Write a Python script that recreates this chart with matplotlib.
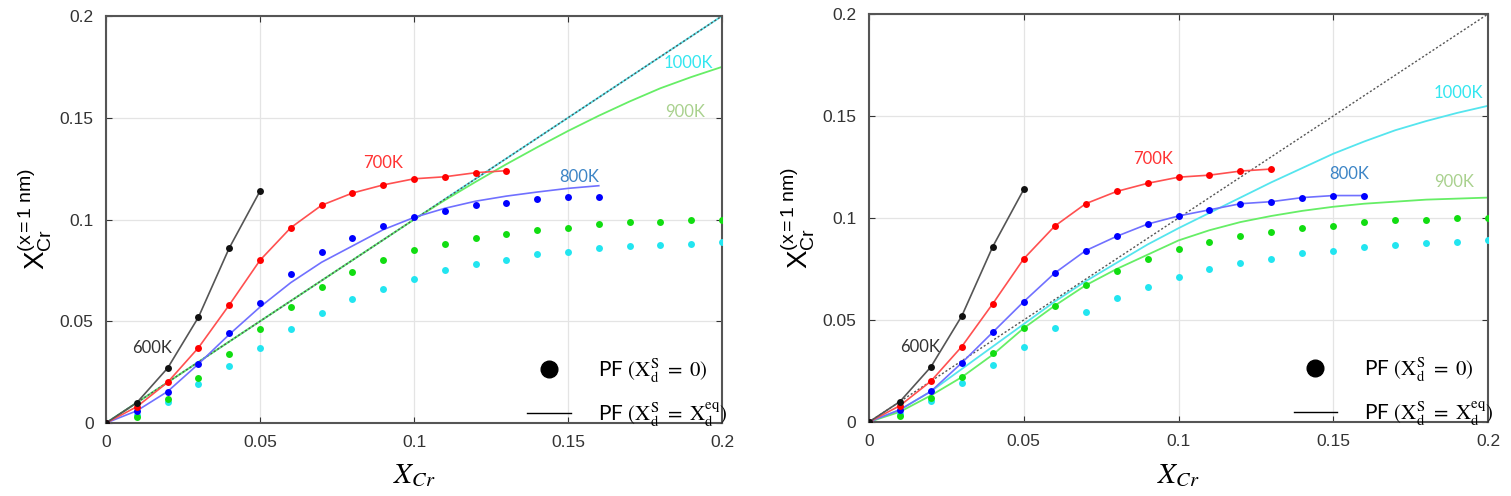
"""Segregation of Cr at the dislocation core vs bulk Cr content, two panels."""

import matplotlib
matplotlib.use("Agg")
import matplotlib.pyplot as plt
from matplotlib.lines import Line2D

plt.rcParams["font.family"] = ["Liberation Sans", "DejaVu Sans"]
plt.rcParams["mathtext.fontset"] = "stix"

# phase-field dots (X_d^S = 0), identical in both panels
x_pts = [0.0, 0.01, 0.02, 0.03, 0.04, 0.05, 0.06, 0.07, 0.08, 0.09, 0.10,
         0.11, 0.12, 0.13, 0.14, 0.15, 0.16, 0.17, 0.18, 0.19, 0.20]
y600 = [0.0, 0.010, 0.027, 0.052, 0.086, 0.114]
y700 = [0.0, 0.008, 0.020, 0.037, 0.058, 0.080, 0.096, 0.107, 0.113, 0.117,
        0.120, 0.121, 0.123, 0.124]
y800 = [0.0, 0.006, 0.015, 0.029, 0.044, 0.059, 0.073, 0.084, 0.091, 0.097,
        0.101, 0.104, 0.107, 0.108, 0.110, 0.111, 0.111]
y900 = [0.0, 0.003, 0.012, 0.022, 0.034, 0.046, 0.057, 0.067, 0.074, 0.080,
        0.085, 0.088, 0.091, 0.093, 0.095, 0.096, 0.098, 0.099, 0.099, 0.100, 0.100]
y1000 = [0.0, 0.004, 0.0105, 0.019, 0.028, 0.037, 0.046, 0.054, 0.061, 0.066,
         0.071, 0.075, 0.078, 0.080, 0.083, 0.084, 0.086, 0.087, 0.0875, 0.088, 0.089]

# curves (X_d^S = X_d^eq), left panel
left_800 = [0.0, 0.006, 0.0155, 0.029, 0.0435, 0.057, 0.069, 0.079, 0.087, 0.095,
            0.101, 0.1055, 0.109, 0.1115, 0.1135, 0.1153, 0.1166]
left_900 = [0.0, 0.01, 0.02, 0.03, 0.04, 0.05, 0.06, 0.07, 0.08, 0.09, 0.100,
            0.1095, 0.1185, 0.1272, 0.1355, 0.1435, 0.151, 0.158, 0.1645, 0.170, 0.175]
left_1000 = [0.0, 0.2]
# curves, right panel
right_900 = [0.0, 0.005, 0.013, 0.022, 0.033, 0.046, 0.057, 0.067, 0.075, 0.082,
             0.089, 0.094, 0.098, 0.101, 0.1035, 0.1055, 0.107, 0.108, 0.109, 0.1095, 0.110]
right_1000 = [0.0, 0.006, 0.015, 0.026, 0.037, 0.048, 0.059, 0.069, 0.078, 0.087,
              0.095, 0.1025, 0.110, 0.1175, 0.1245, 0.1315, 0.1375, 0.143, 0.1475, 0.1515, 0.155]
diag = [0.0, 0.2]

ticks = [0, 0.05, 0.1, 0.15, 0.2]
tick_labels = ["0", "0.05", "0.1", "0.15", "0.2"]

label_font = ["Lato", "DejaVu Sans"]


def draw_panel(ax, c800, c900, c1000, labels):
    x1000 = x_pts if len(c1000) == len(x_pts) else diag
    ax.plot(x1000, c1000, color="#55e5ee", lw=1.3, zorder=2)
    ax.plot(x_pts, c900, color="#66ee66", lw=1.3, zorder=2)
    ax.plot(diag, diag, color="#555555", lw=1.0, ls=(0, (1.5, 1.5)), zorder=2.5)
    ax.plot(x_pts[:len(c800)], c800, color="#7070ff", lw=1.2, zorder=3)
    ax.plot(x_pts[:len(y700)], y700, color="#ff5050", lw=1.2, zorder=3)
    ax.plot(x_pts[:len(y600)], y600, color="#555555", lw=1.2, zorder=3)

    ax.plot(x_pts, y1000, "o", color="#22e5f0", ms=5, mew=0, zorder=4)
    ax.plot(x_pts, y900, "o", color="#11dd11", ms=5, mew=0, zorder=4)
    ax.plot(x_pts[:len(y800)], y800, "o", color="#0000ff", ms=5, mew=0, zorder=5)
    ax.plot(x_pts[:len(y700)], y700, "o", color="#ff0000", ms=5, mew=0, zorder=5)
    ax.plot(x_pts[:len(y600)], y600, "o", color="#111111", ms=5, mew=0, zorder=5)

    for text, (tx, ty), col in labels:
        ax.text(tx, ty, text, color=col, fontsize=12, ha="center", va="center",
                family=label_font)

    ax.set_xlim(0, 0.2)
    ax.set_ylim(0, 0.2)
    ax.set_xticks(ticks)
    ax.set_xticklabels(tick_labels)
    ax.set_yticks(ticks)
    ax.set_yticklabels(tick_labels)
    ax.tick_params(direction="in", top=True, right=True, length=4,
                   labelsize=12.5, colors="#333333", pad=9)
    ax.grid(True, color="#e4e4e4", lw=0.9)
    for sp in ax.spines.values():
        sp.set_color("#555555")
        sp.set_linewidth(1.5)
    ax.set_xlabel(r"$X_{Cr}$", fontsize=21, labelpad=8)
    ax.set_ylabel(r"$\mathregular{X_{Cr}^{(x=1\ nm)}}$", fontsize=20, labelpad=4)

    handles = [Line2D([], [], marker="o", color="black", ls="none", ms=12),
               Line2D([], [], color="black", lw=1.0)]
    names = [r"PF $(\mathrm{X_d^S\ =\ 0})$", r"PF $(\mathrm{X_d^S\ =\ X_d^{eq}})$"]
    ax.legend(handles, names, loc="lower right", bbox_to_anchor=(1.04, -0.06),
              frameon=False, handlelength=2.1, handletextpad=1.3,
              labelspacing=0.75, prop={"family": label_font, "size": 15})


fig = plt.figure(figsize=(15.11, 4.96), dpi=100)
ax1 = fig.add_axes([0.0702, 0.1472, 0.4076, 0.8205])
ax2 = fig.add_axes([0.5751, 0.1492, 0.4097, 0.8226])

draw_panel(ax1, left_800, left_900, left_1000,
           [("600K", (0.0148, 0.0367), "#333333"),
            ("700K", (0.090, 0.128), "#ff3333"),
            ("800K", (0.1537, 0.121), "#3d85c6"),
            ("900K", (0.188, 0.153), "#a9d18e"),
            ("1000K", (0.189, 0.1768), "#33e6f0")])
draw_panel(ax2, y800, right_900, right_1000,
           [("600K", (0.0165, 0.0369), "#333333"),
            ("700K", (0.0917, 0.1288), "#ff3333"),
            ("800K", (0.155, 0.1216), "#3d85c6"),
            ("900K", (0.189, 0.1178), "#a9d18e"),
            ("1000K", (0.1904, 0.1614), "#33e6f0")])

fig.savefig("out.png", dpi=100)
